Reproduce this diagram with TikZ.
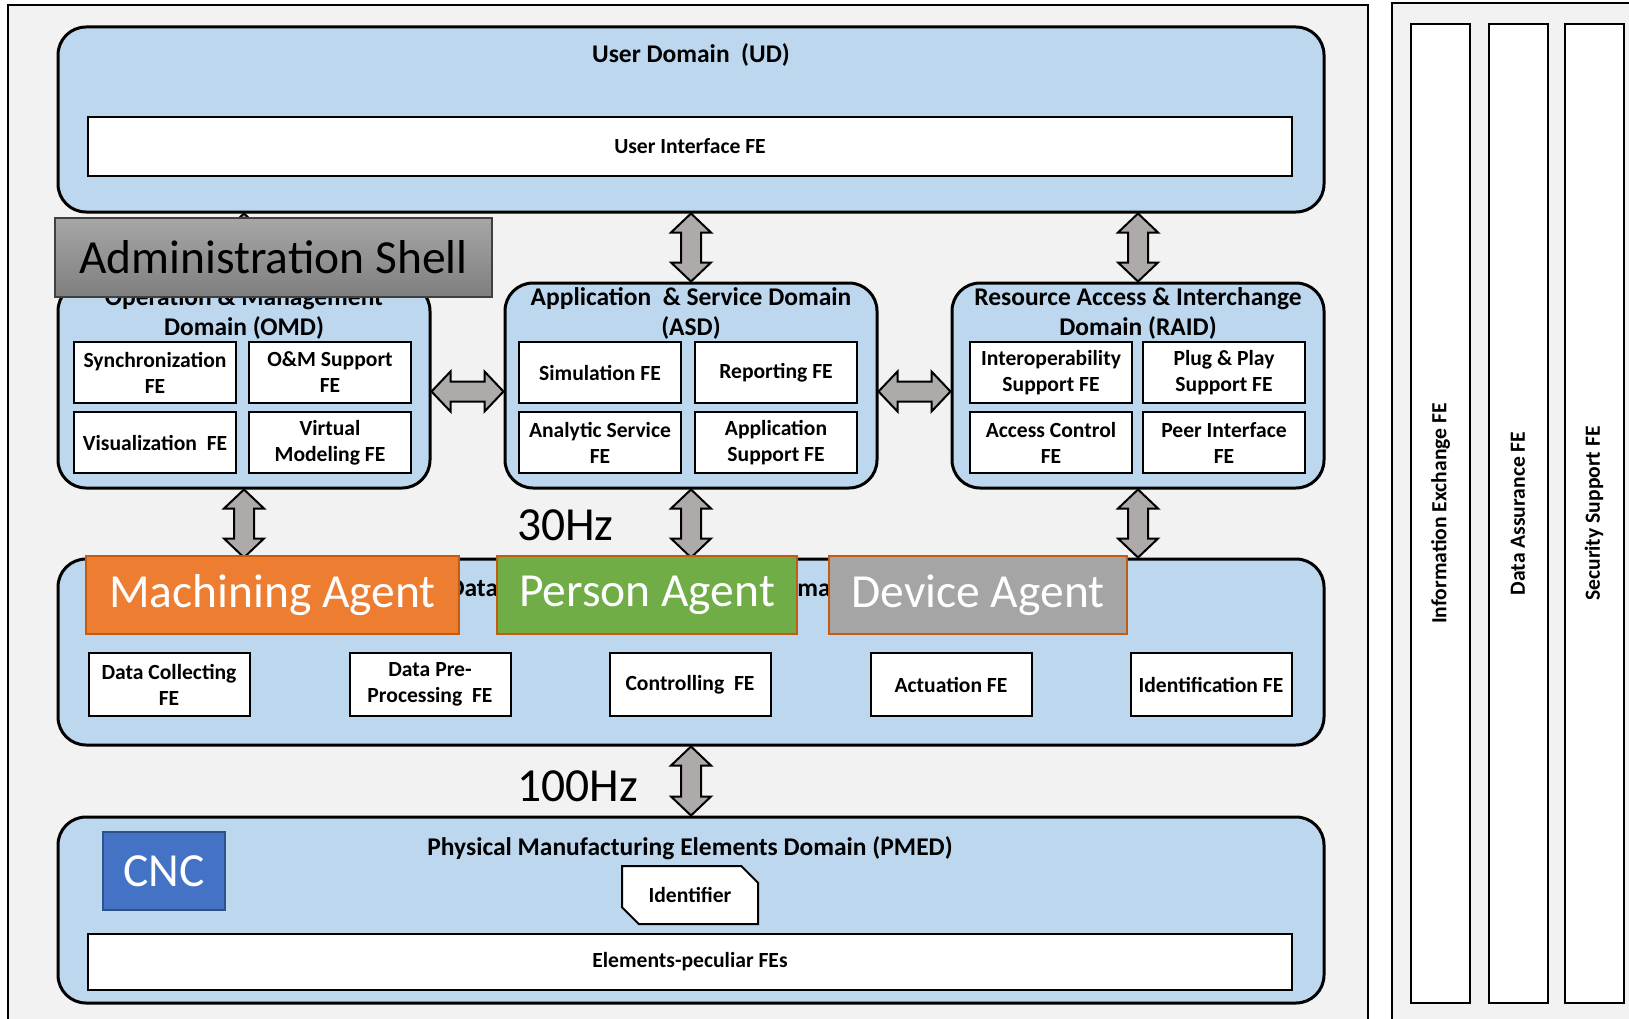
\documentclass[tikz,border=0pt]{standalone}
\usepackage{fontspec}
\setmainfont{Carlito}
\usetikzlibrary{calc,shapes.misc}

\definecolor{panelgray}{HTML}{F2F2F2}
\definecolor{domblue}{HTML}{BDD7EE}
\definecolor{arrowgray}{HTML}{AEAAAA}
\definecolor{shelltop}{HTML}{A6A6A6}
\definecolor{shellbot}{HTML}{7F7F7F}
\definecolor{machorange}{HTML}{ED7D31}
\definecolor{persgreen}{HTML}{70AD47}
\definecolor{devgray}{HTML}{A5A5A5}
\definecolor{agentrim}{HTML}{C55A11}
\definecolor{cncblue}{HTML}{4472C4}
\definecolor{cncrim}{HTML}{2F528F}

\begin{document}
\begin{tikzpicture}[x=1pt, y=-1pt,
  domainbox/.style={draw, line width=3pt, fill=domblue, rounded corners=28pt, inner sep=0pt},
  dtitle/.style={font=\fontsize{25.5}{30}\selectfont\bfseries, align=center, inner sep=0pt},
  fe/.style={draw, line width=2pt, fill=white, align=center, inner sep=0pt,
    font=\fontsize{21.6}{26}\selectfont\bfseries},
  cell/.style={fe, minimum width=162pt, minimum height=61pt},
  sidebox/.style={fe, rotate=90, minimum width=979pt, minimum height=59pt},
  agent/.style={draw=agentrim, line width=2pt, text=white, inner sep=0pt,
    minimum height=78pt, font=\fontsize{47.5}{57}\selectfont},
  bigtext/.style={font=\fontsize{47.5}{57}\selectfont, inner sep=0pt},
  vdbl/.style={draw, line width=2pt, fill=arrowgray, to path={
    let \p1=(\tikztostart), \p2=(\tikztotarget) in
    -- (\x1+20pt,\y1-19pt) -- (\x1+10pt,\y1-19pt) -- (\x1+10pt,\y2+19pt)
    -- (\x1+20pt,\y2+19pt) -- (\x1,\y2) -- (\x1-20pt,\y2+19pt) -- (\x1-10pt,\y2+19pt)
    -- (\x1-10pt,\y1-19pt) -- (\x1-20pt,\y1-19pt) -- cycle}},
  hdbl/.style={draw, line width=2pt, fill=arrowgray, to path={
    let \p1=(\tikztostart), \p2=(\tikztotarget) in
    -- (\x1+19pt,\y1+20pt) -- (\x1+19pt,\y1+10pt) -- (\x2-19pt,\y1+10pt)
    -- (\x2-19pt,\y1+20pt) -- (\x2,\y1) -- (\x2-19pt,\y1-20pt) -- (\x2-19pt,\y1-10pt)
    -- (\x1+19pt,\y1-10pt) -- (\x1+19pt,\y1-20pt) -- cycle}}]

  \useasboundingbox (0,0) rectangle (1629,1019);

  % the two panels
  \draw[fill=panelgray, line width=2pt] (8,5) rectangle (1368,1030);
  \draw[fill=panelgray, line width=2pt] (1392,3) rectangle (1640,1030);

  \node[sidebox] (infoex) at (1440.5,513.5) {Information Exchange FE};
  \node[sidebox] (dataas) at (1518,513.5)   {Data Assurance FE};
  \node[sidebox] (secsup) at (1594,513.5)   {Security Support FE};

  % user domain
  \node[domainbox, minimum width=1266pt, minimum height=185pt] (ud) at (691,119.5) {};
  \node[dtitle] (udt) at (691,55) {User Domain~ (UD)};
  \node[fe, minimum width=1204pt, minimum height=59pt] (ui) at (690,146.5) {User Interface FE};

  % middle row
  \node[domainbox, minimum width=372pt, minimum height=205pt] (omd)  at (244,385.5)  {};
  \node[domainbox, minimum width=372pt, minimum height=205pt] (asd)  at (691,385.5)  {};
  \node[domainbox, minimum width=372pt, minimum height=205pt] (raid) at (1138,385.5) {};
  \node[dtitle] (omdt)  at (244,313)  {Operation \& Management\\Domain (OMD)};
  \node[dtitle] (asdt)  at (691,313)  {Application~ \& Service Domain\\(ASD)};
  \node[dtitle] (raidt) at (1138,313) {Resource Access \& Interchange\\Domain (RAID)};

  \node[cell] (sync)  at (155,372.5)  {Synchronization\\FE};
  \node[cell] (omsup) at (330,372.5)  {O\&M Support\\FE};
  \node[cell] (visu)  at (155,442.5)  {Visualization~~FE};
  \node[cell] (vmod)  at (330,442.5)  {Virtual\\Modeling FE};
  \node[cell] (simu)  at (600,372.5)  {Simulation FE};
  \node[cell] (repo)  at (776,372.5)  {Reporting FE};
  \node[cell] (anal)  at (600,442.5)  {Analytic Service\\FE};
  \node[cell] (appsup) at (776,442.5) {Application\\Support FE};
  \node[cell] (inter) at (1051,372.5) {Interoperability\\Support FE};
  \node[cell] (plug)  at (1224,372.5) {Plug \& Play\\Support FE};
  \node[cell] (acc)   at (1051,442.5) {Access Control\\FE};
  \node[cell] (peer)  at (1224,442.5) {Peer Interface\\FE};

  \draw[vdbl] (omd.north |- ud.south) to (omd.north);
  \draw[vdbl] (ud.south) to (asd.north);
  \draw[vdbl] (raid.north |- ud.south) to (raid.north);
  \draw[hdbl] ([yshift=-6pt]omd.east) to ([yshift=-6pt]asd.west);
  \draw[hdbl] ([yshift=-6pt]asd.east) to ([yshift=-6pt]raid.west);

  \node[draw=black!75, line width=1.5pt, top color=shelltop, bottom color=shellbot,
    minimum width=437pt, minimum height=79pt, bigtext] (shell) at (273.5,257.5) {Administration Shell};

  % data domain
  \node[domainbox, minimum width=1266pt, minimum height=186pt] (data) at (691,652) {};
  \node[dtitle] (datat) at (690,589) {Data Processing \& Controlling Domain (DPCD)};
  \node[fe, minimum width=161pt, minimum height=63pt] (coll) at (169,684.5)  {Data Collecting\\FE};
  \node[fe, minimum width=161pt, minimum height=63pt] (prep) at (430,684.5)  {Data Pre-\\Processing~~FE};
  \node[fe, minimum width=161pt, minimum height=63pt] (ctrl) at (690,684.5)  {Controlling~~FE};
  \node[fe, minimum width=161pt, minimum height=63pt] (actu) at (951,684.5)  {Actuation FE};
  \node[fe, minimum width=161pt, minimum height=63pt] (iden) at (1211,684.5) {Identification FE};

  \draw[vdbl] (omd.south) to (omd.south |- data.north);
  \draw[vdbl] (asd.south) to (data.north);
  \draw[vdbl] (raid.south) to (raid.south |- data.north);

  \node[agent, fill=machorange, minimum width=373pt] (mach) at (272.5,595) {Machining Agent};
  \node[agent, fill=persgreen, minimum width=300pt]  (pers) at (647,595)   {Person Agent};
  \node[agent, fill=devgray, minimum width=298pt]    (dev)  at (978,595)   {Device Agent};

  \node[bigtext, anchor=west] (hzmid) at (517,525) {30Hz};
  \node[bigtext, anchor=west] (hzlow) at (517,786) {100Hz};

  % physical domain
  \node[domainbox, minimum width=1266pt, minimum height=186pt] (pmed) at (691,910) {};
  \draw[vdbl] (data.south) to (pmed.north);
  \node[dtitle] (pmedt) at (690,848) {Physical Manufacturing Elements Domain (PMED)};
  \node[draw=cncrim, line width=2pt, fill=cncblue, text=white, bigtext,
    minimum width=122pt, minimum height=78pt] (cnc) at (164,871) {CNC};
  \node[fe, chamfered rectangle, chamfered rectangle corners={north east,south west},
    chamfered rectangle xsep=9pt, chamfered rectangle ysep=9pt,
    minimum width=136pt, minimum height=58pt] (ident) at (690,895) {Identifier};
  \node[fe, minimum width=1204pt, minimum height=56pt] (elem) at (690,962) {Elements-peculiar FEs};
\end{tikzpicture}
\end{document}
